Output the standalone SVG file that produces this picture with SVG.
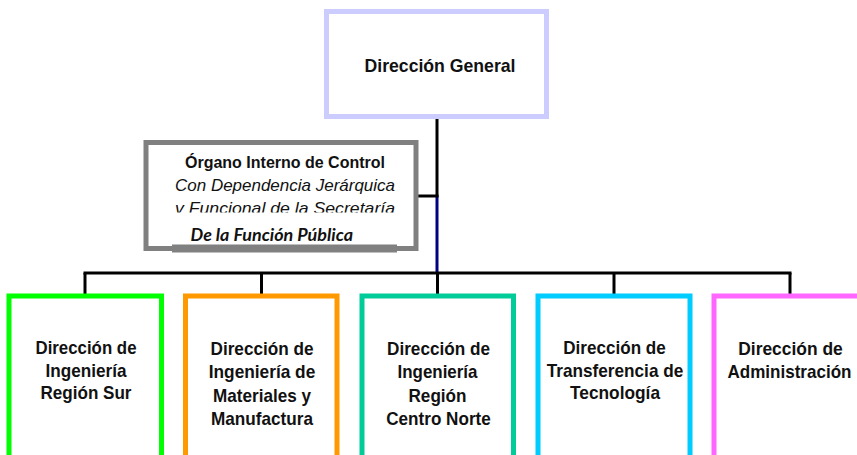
<svg xmlns="http://www.w3.org/2000/svg" width="857" height="455" viewBox="0 0 857 455">
  <style>
    .box { fill: #ffffff; stroke-width: 5; }
    .t { font-family: "Liberation Sans", Arial, sans-serif; font-weight: bold; font-size: 18.5px; fill: #111111; text-anchor: middle; }
    .oic { font-family: "Liberation Sans", Arial, sans-serif; fill: #111111; text-anchor: middle; }
    .line { fill: none; stroke: #000000; stroke-width: 3; }
  </style>
  <defs>
    <clipPath id="clip3">
      <rect x="140" y="140" width="290" height="72.5"/>
    </clipPath>
  </defs>
  <rect x="0" y="0" width="857" height="455" fill="#ffffff"/>

  <g id="connectors">
    <line class="line" x1="437" y1="118" x2="437" y2="197"/>
    <line x1="437" y1="196" x2="437" y2="272" stroke="#000080" stroke-width="3"/>
    <line class="line" x1="417" y1="196" x2="438.5" y2="196"/>
    <line class="line" x1="83.5" y1="273" x2="791.5" y2="273"/>
    <line class="line" x1="85" y1="273" x2="85" y2="294"/>
    <line class="line" x1="261.5" y1="273" x2="261.5" y2="294"/>
    <line class="line" x1="437.5" y1="273" x2="437.5" y2="294"/>
    <line class="line" x1="614" y1="273" x2="614" y2="294"/>
    <line class="line" x1="790" y1="273" x2="790" y2="294"/>
  </g>

  <g id="direccion-general">
    <rect class="box" x="326.5" y="11.5" width="220" height="105" stroke="#ccccff"/>
    <text class="t" x="440" y="71.5" textLength="151" lengthAdjust="spacingAndGlyphs">Dirección  General</text>
  </g>

  <g id="organo-interno-control">
    <rect class="box" x="146" y="142.5" width="270" height="106" stroke="#808080"/>
    <rect x="172" y="244.5" width="225" height="8" fill="#808080"/>
    <text class="oic" x="285" y="167.5" font-size="16" font-weight="bold" textLength="200" lengthAdjust="spacingAndGlyphs">Órgano Interno de Control</text>
    <text class="oic" x="285" y="190.5" font-size="17" font-style="italic" textLength="220" lengthAdjust="spacingAndGlyphs">Con Dependencia Jerárquica</text>
    <text class="oic" x="285" y="213.5" font-size="17" font-style="italic" textLength="220" lengthAdjust="spacingAndGlyphs" clip-path="url(#clip3)">v Funcional de la Secretaría</text>
    <text x="190.5" y="241" font-family="Lato, 'Open Sans', sans-serif" font-size="16.5" font-weight="bold" font-style="italic" fill="#111111" textLength="162.5" lengthAdjust="spacingAndGlyphs">De la Función Pública</text>
  </g>

  <g id="ingenieria-region-sur">
    <rect class="box" x="9" y="296" width="152.5" height="180" stroke="#00ff00"/>
    <text class="t" x="86" y="354" textLength="101" lengthAdjust="spacingAndGlyphs">Dirección de</text>
    <text class="t" x="86" y="376.5" textLength="81" lengthAdjust="spacingAndGlyphs">Ingeniería</text>
    <text class="t" x="86" y="399" textLength="91" lengthAdjust="spacingAndGlyphs">Región Sur</text>
  </g>

  <g id="ingenieria-materiales">
    <rect class="box" x="185.5" y="296" width="151.5" height="180" stroke="#ff9900"/>
    <text class="t" x="262" y="354.5" textLength="103" lengthAdjust="spacingAndGlyphs">Dirección de</text>
    <text class="t" x="262" y="378" textLength="106.5" lengthAdjust="spacingAndGlyphs">Ingeniería de</text>
    <text class="t" x="262" y="401.5" textLength="98" lengthAdjust="spacingAndGlyphs">Materiales y</text>
    <text class="t" x="262" y="425" textLength="102" lengthAdjust="spacingAndGlyphs">Manufactura</text>
  </g>

  <g id="ingenieria-centro-norte">
    <rect class="box" x="362" y="296" width="151.5" height="180" stroke="#00cc99"/>
    <text class="t" x="438.5" y="354.5" textLength="103" lengthAdjust="spacingAndGlyphs">Dirección de</text>
    <text class="t" x="437.5" y="378" textLength="80" lengthAdjust="spacingAndGlyphs">Ingeniería</text>
    <text class="t" x="437.5" y="401.5" textLength="58" lengthAdjust="spacingAndGlyphs">Región</text>
    <text class="t" x="438.5" y="425" textLength="104.5" lengthAdjust="spacingAndGlyphs">Centro Norte</text>
  </g>

  <g id="transferencia-tecnologia">
    <rect class="box" x="538" y="296" width="152" height="180" stroke="#00ccff"/>
    <text class="t" x="614.5" y="353.5" textLength="102.5" lengthAdjust="spacingAndGlyphs">Dirección de</text>
    <text class="t" x="615" y="376.5" textLength="136.5" lengthAdjust="spacingAndGlyphs">Transferencia de</text>
    <text class="t" x="615" y="399" textLength="90" lengthAdjust="spacingAndGlyphs">Tecnología</text>
  </g>

  <g id="administracion">
    <rect class="box" x="714" y="296" width="152" height="180" stroke="#ff66ff"/>
    <text class="t" x="790.5" y="354.5" textLength="104.5" lengthAdjust="spacingAndGlyphs">Dirección de</text>
    <text class="t" x="789.5" y="377.5" textLength="124" lengthAdjust="spacingAndGlyphs">Administración</text>
  </g>
</svg>
